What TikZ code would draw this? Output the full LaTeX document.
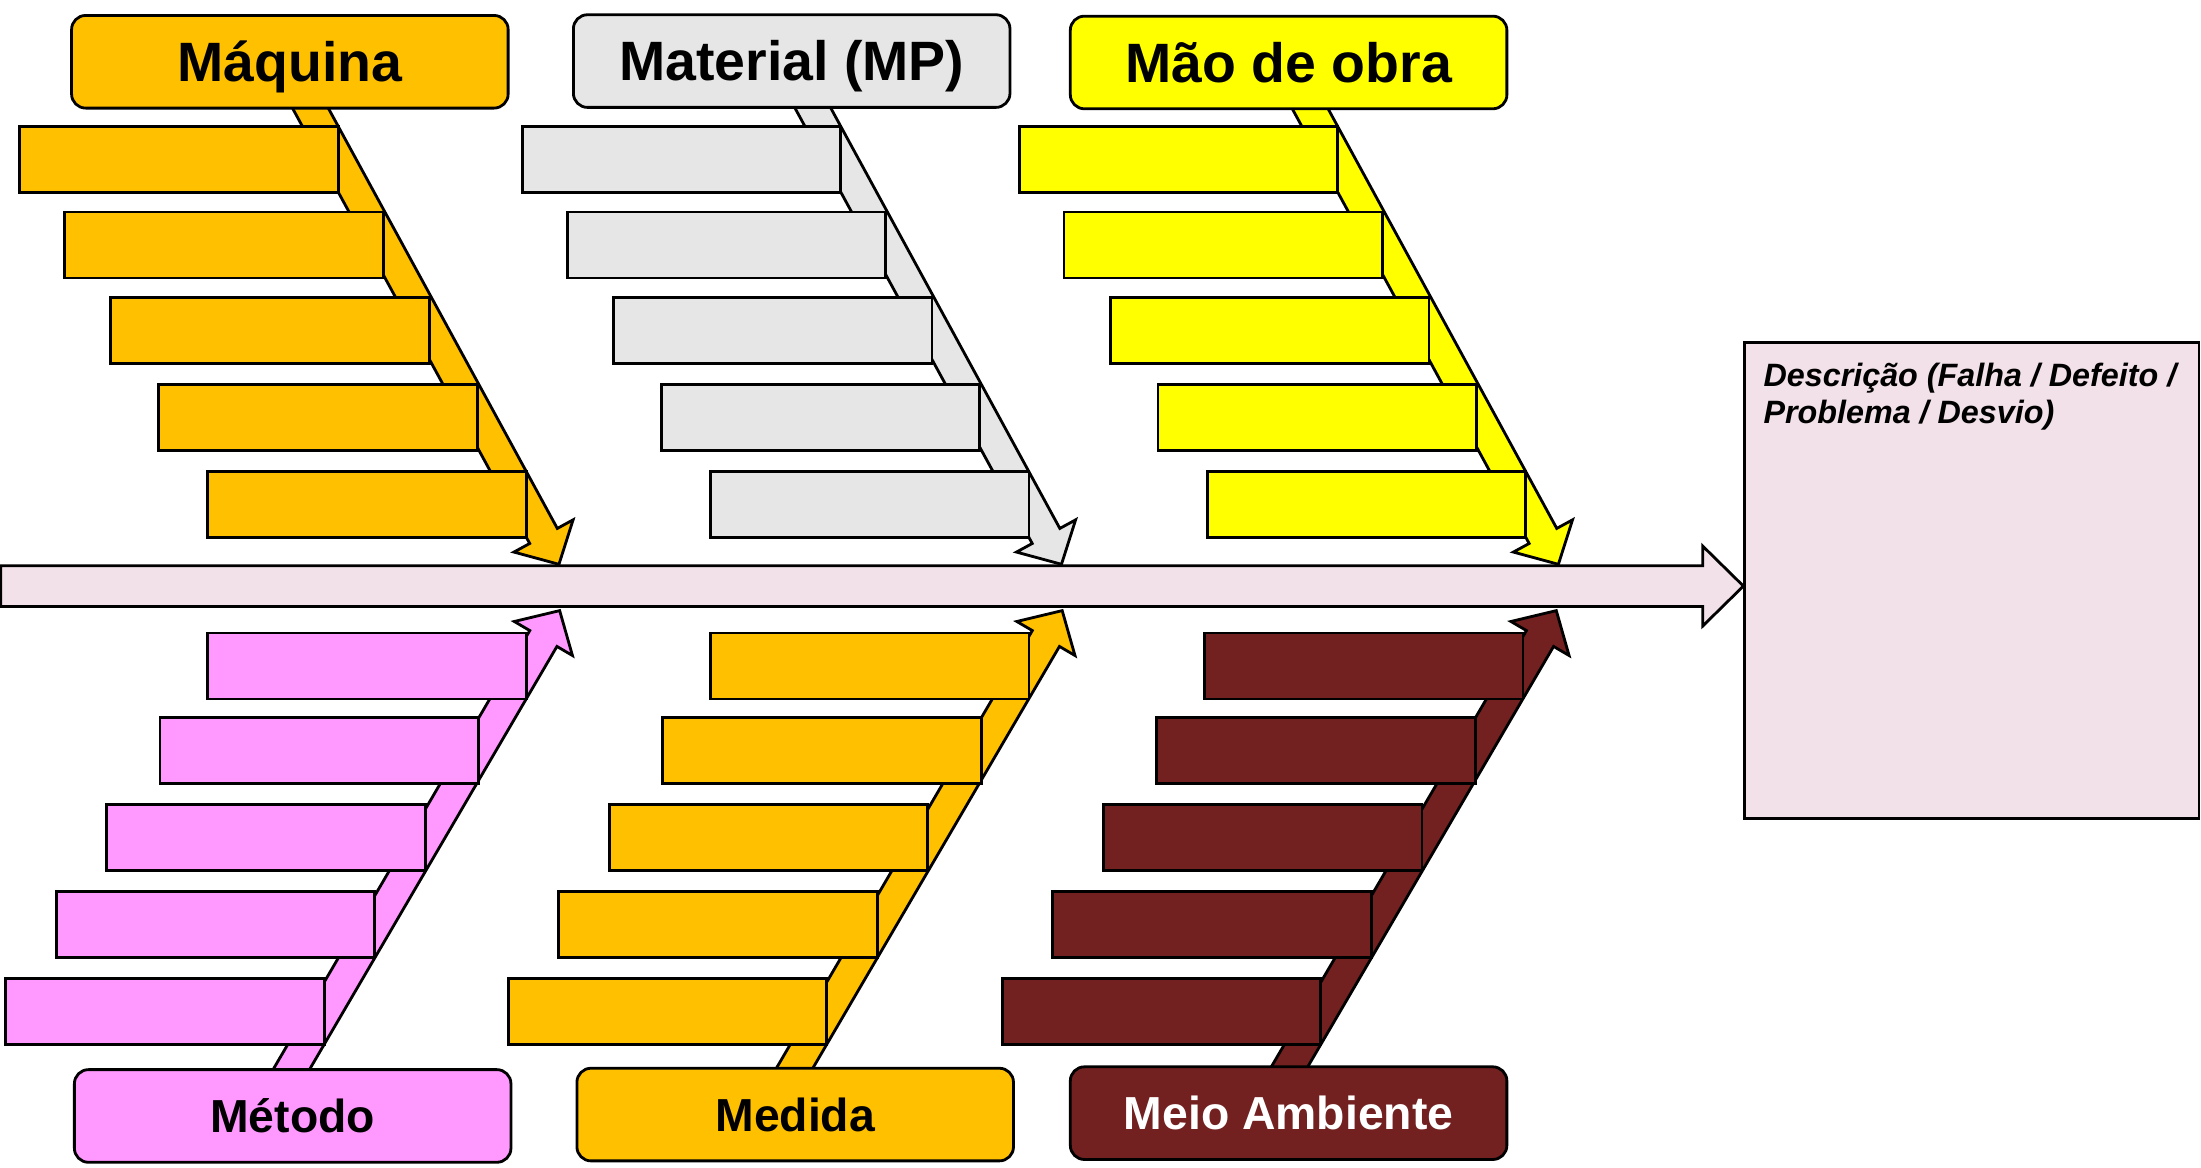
\documentclass[tikz,border=0pt]{standalone}
\usepackage{fontspec}
\setmainfont{Liberation Sans}
\usetikzlibrary{calc}
\definecolor{cOrange}{HTML}{FFC000}
\definecolor{cGrey}{HTML}{E6E6E6}
\definecolor{cYellow}{HTML}{FFFF00}
\definecolor{cPink}{HTML}{FF99FF}
\definecolor{cMaroon}{HTML}{722020}
\definecolor{cSpine}{HTML}{F2E1E9}
\tikzset{
  outl/.style={draw=black, line width=1pt, line join=miter},
  titlebox/.style={outl, rounded corners=5pt, minimum width=155.5pt, minimum height=33pt, inner sep=0pt, text height=14.1pt, text depth=0pt, font=\fontsize{19.75}{22}\selectfont\bfseries},
  subbox/.style={titlebox, text height=11.8pt, text depth=0pt, font=\fontsize{16.5}{19}\selectfont\bfseries},
  desctext/.style={inner sep=0pt, anchor=base west, font=\fontsize{11.5}{13.5}\selectfont\bfseries\itshape},
}
\newcommand\fbarrow[3]{%
  \coordinate (fbB) at ($(#2)!11.5pt!(#1)$);
  \filldraw[outl, fill=#3]
    ($(#1)!5.6pt!90:(#2)$) -- ($(fbB)!5.6pt!90:(#2)$) -- ($(fbB)!12pt!90:(#2)$) -- (#2)
    -- ($(fbB)!12pt!-90:(#2)$) -- ($(fbB)!5.6pt!-90:(#2)$) -- ($(#1)!5.6pt!-90:(#2)$) -- cycle;
}
\newcommand\topbars[2]{% #1 x offset, #2 fill
  \foreach \r/\t in {241/90,273/151,306/212,340/274,375/336}
    \filldraw[outl, fill=#2] ({\r+#1-227},\t) rectangle ({\r+#1},{\t+47});
}
\newcommand\botbars[2]{% #1 x offset, #2 fill
  \foreach \r/\t in {375/451,341/511,303/573,267/635,231/697}
    \filldraw[outl, fill=#2] ({\r+#1-227},\t) rectangle ({\r+#1},{\t+47});
}
\begin{document}
\begin{tikzpicture}[x=0.5pt, y=-0.5pt]
\useasboundingbox (0,0) rectangle (1568,832);
% spine
\filldraw[outl, fill=cSpine] (0.5,403) -- (1213,403) -- (1213,389) -- (1242,417.5) -- (1213,446) -- (1213,432) -- (0.5,432) -- cycle;
% effect box
\filldraw[outl, fill=cSpine] (1243,244) rectangle (1566.5,583);
\node[desctext] (desc1) at (1256,275) {Descrição (Falha / Defeito /};
\node[desctext] (desc2) at (1256,302) {Problema / Desvio)};
% arrow coordinates
\coordinate (mqS) at (206.4,50);   \coordinate (mqT) at (398.2,402);
\coordinate (maS) at (564.4,50);   \coordinate (maT) at (756.2,402);
\coordinate (moS) at (918.4,50);   \coordinate (moT) at (1110.2,402);
\coordinate (meS) at (191.1,790);  \coordinate (meT) at (398.7,435);
\coordinate (mdS) at (549.1,790);  \coordinate (mdT) at (756.7,435);
\coordinate (maiS) at (901.1,790); \coordinate (maiT) at (1108.7,435);
% top branches
\fbarrow{mqS}{mqT}{cOrange}
\topbars{0}{cOrange}
\fbarrow{maS}{maT}{cGrey}
\topbars{358}{cGrey}
\fbarrow{moS}{moT}{cYellow}
\topbars{712}{cYellow}
% bottom branches
\fbarrow{meS}{meT}{cPink}
\botbars{0}{cPink}
\fbarrow{mdS}{mdT}{cOrange}
\botbars{358}{cOrange}
\fbarrow{maiS}{maiT}{cMaroon}
\botbars{710}{cMaroon}
% title boxes
\node[titlebox, fill=cOrange] (maquina) at (206.5,44) {Máquina};
\node[titlebox, fill=cGrey] (material) at (564,43.5) {Material (MP)};
\node[titlebox, fill=cYellow] (maodeobra) at (918,44.5) {Mão de obra};
\node[subbox, fill=cPink] (metodo) at (208.5,795) {Método};
\node[subbox, fill=cOrange] (medida) at (566.5,794) {Medida};
\node[subbox, fill=cMaroon, text=white] (meio) at (918,793) {Meio Ambiente};
\end{tikzpicture}
\end{document}
